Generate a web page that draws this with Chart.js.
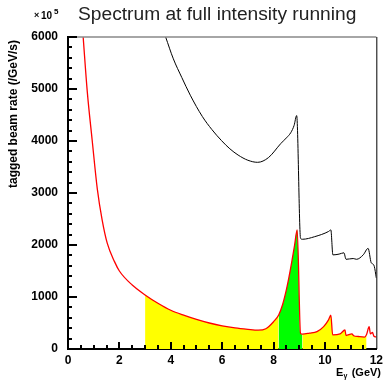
<!DOCTYPE html>
<html>
<head>
<meta charset="utf-8">
<script src="https://cdn.jsdelivr.net/npm/chart.js@4/dist/chart.umd.min.js"></script>
<style>
  body { margin: 0; background: #fff; }
  canvas { display: block; }
</style>
</head>
<body>
<canvas id="myChart" width="387" height="380"></canvas>
<script>
// photon energy (GeV) and rate (x 10^5 /GeV/s)
var blackE = [3.8, 4.1, 4.43, 4.76, 5.23, 5.6, 5.97, 6.3, 6.62, 7.0, 7.38, 7.8, 8.28, 8.5, 8.67, 8.8, 8.9,
              9.05, 9.12, 9.6, 10.14, 10.23, 10.31, 10.55, 10.74, 10.82, 11.1, 11.23, 11.49, 11.68, 11.8, 11.85, 11.92, 12.0];
var blackRate = [6000, 5580, 5220, 4880, 4470, 4220, 4010, 3850, 3730, 3630, 3590, 3680, 3950, 4060, 4160, 4300, 4490,
                 2130, 2110, 2160, 2260, 2290, 1810, 1825, 1850, 1725, 1740, 1725, 1810, 1935, 1660, 1640, 1590, 1365];

var redE = [0.59, 0.75, 0.94, 1.14, 1.33, 1.53, 1.81, 2.0, 2.5, 3.0, 3.5, 4.0, 4.5, 5.0, 5.5, 6.0, 6.5, 7.0, 7.4, 7.7,
            8.0, 8.2, 8.35, 8.5, 8.6, 8.7, 8.82, 8.92, 9.05, 9.12, 9.4, 9.69, 9.95, 10.14, 10.23, 10.3, 10.59, 10.78,
            10.82, 11.05, 11.12, 11.3, 11.54, 11.62, 11.72, 11.77, 11.85, 11.9, 12.0];
var redRate = [6000, 4950, 4020, 3080, 2480, 2030, 1680, 1500, 1230, 1040, 880, 745, 650, 570, 500, 445, 405, 378, 362, 390,
               525, 655, 850, 1140, 1380, 1650, 2000, 2290, 300, 285, 305, 335, 430, 560, 650, 270, 290, 365,
               260, 290, 255, 240, 230, 280, 430, 290, 320, 250, 230];

var yellowRanges = [[3.0, 8.2], [9.12, 11.62]];
var greenRange = [8.2, 9.12];

var xTicks = [0, 2, 4, 6, 8, 10, 12];
var yTicks = [0, 1000, 2000, 3000, 4000, 5000, 6000];

function points(xs, ys, lo, hi) {
    var out = [];
    for (var i = 0; i < xs.length; i++) {
        if (xs[i] >= lo && xs[i] <= hi) out.push({x: xs[i], y: ys[i]});
    }
    return out;
}

var tickFont = {family: 'Liberation Sans', size: 12, weight: 'bold'};

var datasets = [
    {data: points(blackE, blackRate, 0, 12), borderColor: '#000', borderWidth: 1, order: 0},
    {data: points(redE, redRate, 0, 12), borderColor: '#ff0000', borderWidth: 1.3, order: 1}
];
yellowRanges.forEach(function(r) {
    datasets.push({data: points(redE, redRate, r[0], r[1]), borderWidth: 0, borderColor: 'rgba(0,0,0,0)',
                   backgroundColor: '#ffff00', fill: 'origin', order: 3});
});
datasets.push({data: points(redE, redRate, greenRange[0], greenRange[1]), borderWidth: 0, borderColor: 'rgba(0,0,0,0)',
               backgroundColor: '#00ff00', fill: 'origin', order: 2});
datasets.forEach(function(d) {
    d.showLine = true;
    d.pointRadius = 0;
    d.cubicInterpolationMode = 'monotone';
});

// frame, inward ticks and texts
var decor = {
    id: 'decor',
    afterDatasetsDraw: function(chart) {
        var ctx = chart.ctx, a = chart.chartArea;
        var xs = chart.scales.x, ys = chart.scales.y;
        ctx.save();
        ctx.strokeStyle = '#888';
        ctx.lineWidth = 1.5;
        ctx.beginPath(); ctx.moveTo(a.left, a.top); ctx.lineTo(a.right, a.top); ctx.stroke();
        ctx.strokeStyle = '#000';
        ctx.lineWidth = 1;
        ctx.beginPath(); ctx.moveTo(a.right + 0.5, a.top); ctx.lineTo(a.right + 0.5, a.bottom); ctx.stroke();

        ctx.lineWidth = 2;
        for (var v = 0.5; v < 12; v += 0.5) {
            var px = Math.round(xs.getPixelForValue(v));
            var len = (v % 2 == 0) ? 7 : 4;
            ctx.beginPath(); ctx.moveTo(px, a.bottom); ctx.lineTo(px, a.bottom - len); ctx.stroke();
        }
        for (var w = 200; w < 6000; w += 200) {
            var py = Math.round(ys.getPixelForValue(w));
            var l2 = (w % 1000 == 0) ? 9 : 4;
            ctx.beginPath(); ctx.moveTo(a.left, py); ctx.lineTo(a.left + l2, py); ctx.stroke();
        }
        ctx.beginPath(); ctx.moveTo(a.left, a.top); ctx.lineTo(a.left + 9, a.top); ctx.stroke();

        // title, sized to span the same width as the original
        var title = 'Spectrum at full intensity running';
        ctx.font = '18px "Liberation Sans"';
        var size = 18 * 279 / ctx.measureText(title).width;
        ctx.fillStyle = '#222';
        ctx.textBaseline = 'alphabetic';
        ctx.textAlign = 'left';
        ctx.font = size.toFixed(1) + 'px "Liberation Sans"';
        ctx.fillText(title, 78, 20);

        // exponent
        ctx.fillStyle = '#000';
        ctx.font = 'bold 9px "Liberation Sans"';
        ctx.fillText('\u00d7', 34, 18);
        ctx.font = 'bold 10px "Liberation Sans"';
        ctx.fillText('10', 41, 18.5);
        ctx.font = 'bold 8px "Liberation Sans"';
        ctx.fillText('5', 54, 14);

        // y title
        ctx.save();
        ctx.translate(17, 40);
        ctx.rotate(-Math.PI / 2);
        ctx.textAlign = 'right';
        ctx.font = 'bold 12px "Liberation Sans"';
        ctx.fillText('tagged beam rate (/GeV/s)', 0, 0);
        ctx.restore();

        // x title
        ctx.textAlign = 'right';
        ctx.font = 'bold 11px "Liberation Sans"';
        ctx.fillText('(GeV)', 381, 376);
        ctx.textAlign = 'left';
        ctx.fillText('E', 336, 376);
        ctx.font = 'bold 7px "Liberation Sans"';
        ctx.fillText('\u03b3', 343.5, 378);
        ctx.restore();
    }
};

var chart = new Chart(document.getElementById('myChart').getContext('2d'), {
    type: 'scatter',
    data: {datasets: datasets},
    options: {
        responsive: false,
        animation: false,
        layout: {padding: {top: 37, right: 7, left: 0, bottom: 0}},
        plugins: {legend: {display: false}, tooltip: {enabled: false}},
        scales: {
            x: {
                type: 'linear', min: 0, max: 12,
                grid: {display: false, drawTicks: false, tickLength: 0},
                border: {display: true, color: '#000', width: 2},
                ticks: {font: tickFont, color: '#000', padding: 4, maxRotation: 0,
                        callback: function(v) { return String(v); }},
                afterBuildTicks: function(s) { s.ticks = xTicks.map(function(v) { return {value: v}; }); },
                afterFit: function(s) { s.height = 31; }
            },
            y: {
                type: 'linear', min: 0, max: 6000,
                grid: {display: false, drawTicks: false, tickLength: 0},
                border: {display: true, color: '#000', width: 2},
                ticks: {font: tickFont, color: '#000', padding: 10,
                        callback: function(v) { return String(v); }},
                afterBuildTicks: function(s) { s.ticks = yTicks.map(function(v) { return {value: v}; }); },
                afterFit: function(s) { s.width = 68; }
            }
        }
    },
    plugins: [decor]
});
</script>
</body>
</html>
